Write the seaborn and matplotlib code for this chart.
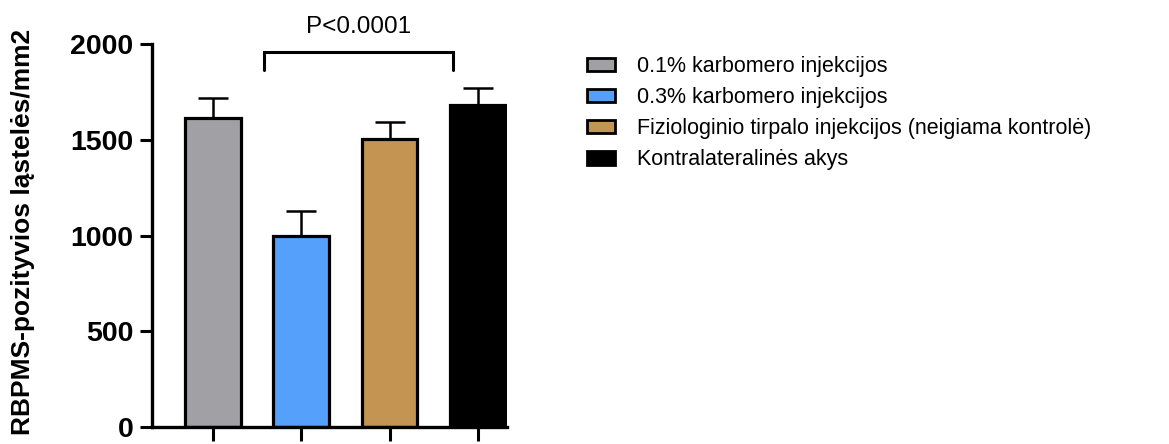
import matplotlib
matplotlib.use("Agg")
import matplotlib.pyplot as plt
import seaborn as sns
import pandas as pd

# Group labels, means and upper error (SEM) of RBPMS-positive cell density
groups = [
    "0.1% karbomero injekcijos",
    "0.3% karbomero injekcijos",
    "Fiziologinio tirpalo injekcijos (neigiama kontrolė)",
    "Kontralateralinės akys",
]
means = [1612, 1000, 1505, 1680]
errors = [108, 130, 90, 92]
colors = ["#A1A0A4", "#55A0FB", "#C49552", "#000000"]
y_ticks = [0, 500, 1000, 1500, 2000]
p_label = "P<0.0001"

sns.set_theme(style="ticks")
plt.rcParams["font.family"] = ["Liberation Sans", "DejaVu Sans"]
plt.rcParams.update({
    "text.color": "black",
    "axes.labelcolor": "black",
    "xtick.color": "black",
    "ytick.color": "black",
})

df = pd.DataFrame({"group": groups, "mean": means})

fig = plt.figure(figsize=(11.69, 4.44), dpi=100)
ax = fig.add_axes([152 / 1169, 17 / 444, 355 / 1169, 383 / 444])

sns.barplot(
    data=df, x="group", y="mean", hue="group", palette=colors,
    order=groups, hue_order=groups, dodge=False, width=0.63, saturation=1,
    edgecolor="black", linewidth=2.3, errorbar=None, legend=True, ax=ax,
    zorder=2,
)

# upper-only error bars
xs = list(range(len(groups)))
ax.errorbar(xs, means, yerr=[[0] * len(means), errors], fmt="none",
            ecolor="black", elinewidth=1.8, capsize=10.5, capthick=1.8,
            zorder=1)

ax.set_xlim(-0.69, 3.33)
ax.set_ylim(0, 2000)
ax.set_yticks(y_ticks)
ax.set_yticklabels([str(v) for v in y_ticks], fontsize=20.5, fontweight="bold",
                   color="black")
ax.set_xticks(xs)
ax.set_xticklabels([""] * len(xs))
ax.set_xlabel("")
ax.set_ylabel("RBPMS-pozityvios ląstelės/mm2", fontsize=19, fontweight="bold",
              color="black")
ax.yaxis.set_label_coords(-0.33, 0.51)

sns.despine(ax=ax)
for side in ("left", "bottom"):
    ax.spines[side].set_linewidth(2.4)
    ax.spines[side].set_color("black")
ax.tick_params(axis="y", length=8.5, width=2.2, pad=5, colors="black")
ax.tick_params(axis="x", length=10, width=2.2, colors="black")

# significance bracket
bx0, bx1, btop, bbot = 0.58, 2.72, 1958, 1862
ax.plot([bx0, bx0, bx1, bx1], [bbot, btop, btop, bbot], color="black",
        lw=2.2, clip_on=False, solid_joinstyle="miter")
ax.text((bx0 + bx1) / 2, 2030, p_label, ha="center", va="bottom",
        fontsize=17.5, color="black", clip_on=False)

leg = ax.legend(
    loc="upper left", bbox_to_anchor=(587 / 1169, 1 - 56 / 444),
    bbox_transform=fig.transFigure, frameon=False, fontsize=15.5,
    handlelength=1.3, handleheight=0.6, handletextpad=1.0, labelspacing=0.47,
    borderpad=0, borderaxespad=0, labelcolor="black",
)
for h in leg.legend_handles:
    h.set_edgecolor("black")
    h.set_linewidth(2.0)

fig.savefig("out.png", dpi=100)
